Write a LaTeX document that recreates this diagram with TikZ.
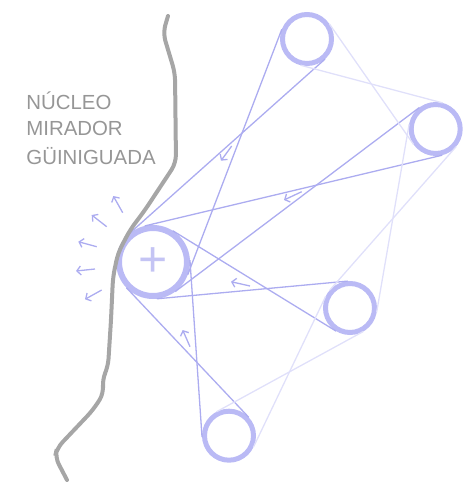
\documentclass[tikz,border=0pt]{standalone}
\usepackage{fontspec}
\setsansfont{Liberation Sans}
\usetikzlibrary{arrows.meta}
\definecolor{ringblue}{RGB}{186,186,245}
\definecolor{lineblue}{RGB}{172,172,240}
\definecolor{paleblue}{RGB}{224,224,250}
\definecolor{plusblue}{RGB}{196,196,244}
\definecolor{rivergray}{RGB}{166,166,166}
\definecolor{labelgray}{RGB}{150,150,150}
\tikzset{
  spot/.style={circle,draw=ringblue,line width=2.5pt,minimum size=24.5pt,inner sep=0pt},
  hub/.style={circle,draw=ringblue,line width=3pt,minimum size=34pt,inner sep=0pt,
    text=plusblue,font=\sffamily\fontsize{25}{25}\selectfont},
  sight/.style={draw=lineblue,line width=0.65pt},
  faint/.style={draw=paleblue,line width=0.65pt},
  flow/.style={draw=lineblue,line width=0.65pt,-{Straight Barb[length=2pt,width=4.5pt]}},
  river/.style={draw=rivergray,line width=2pt,rounded corners=4pt,line cap=round},
  place/.style={anchor=base west,inner sep=0pt,text=labelgray,font=\sffamily\fontsize{10.2}{12}\selectfont}
}
\begin{document}
\begin{tikzpicture}[x=0.5pt,y=-0.5pt]
      \useasboundingbox (0,0) rectangle (463,483);
      \node[hub] (c) at (153,262) {+};
      \node[spot] (t) at (307,39) {};
      \node[spot] (r) at (435.7,129) {};
      \node[spot] (m) at (350,308) {};
      \node[spot] (b) at (229,435.7) {};
      \begin{scope}[sight]
        \draw (t.159.03) to (c.-20.97);
        \draw (t.-48.29) to (c.131.71);
        \draw (r.127) to (c.-53);
        \draw (r.-76.63) to (c.103.37);
        \draw (m.95.3) to (c.-84.7);
        \draw (m.-121.58) to (c.58.42);
        \draw (b.43.36) to (c.-136.64);
        \draw (b.183.9) to (c.3.9);
      \end{scope}
      \begin{scope}[faint]
        \draw (t.-104.84) to (r.75.16);
        \draw (t.34.92) to (r.-145.08);
        \draw (r.170.2) to (m.-9.8);
        \draw (r.-41.36) to (m.138.64);
        \draw (m.154.42) to (b.-25.58);
        \draw (m.-61.34) to (b.118.66);
      \end{scope}
      \begin{scope}[flow]
        \draw (231.7,146) -- (221,160.7);
        \draw (301.7,191.7) -- (284,200);
        \draw (250,286) -- (231,281.7);
        \draw (190,346.7) -- (182.7,330);
        \draw (122.7,212.7) -- (113.3,196);
        \draw (106.7,226.7) -- (91.7,215);
        \draw (96.7,246.7) -- (78.3,241.7);
        \draw (95,269) -- (76,271);
        \draw (101.7,290) -- (85,299.3);
      \end{scope}
      \draw[river] (168,16) -- (163,33) -- (175,73) -- (176,163) -- (145,210) -- (130,230)
        -- (118,253) -- (113,277) -- (111,320) -- (108,367) -- (102,380) -- (104,393)
        -- (93,410) -- (57,448) -- (55,457) -- (67,480);
      \node[place] (nucleo) at (26,109) {NÚCLEO};
      \node[place] (mirador) at (26,135) {MIRADOR};
      \node[place] (guiniguada) at (26,164) {GÜINIGUADA};
    \end{tikzpicture}
\end{document}
